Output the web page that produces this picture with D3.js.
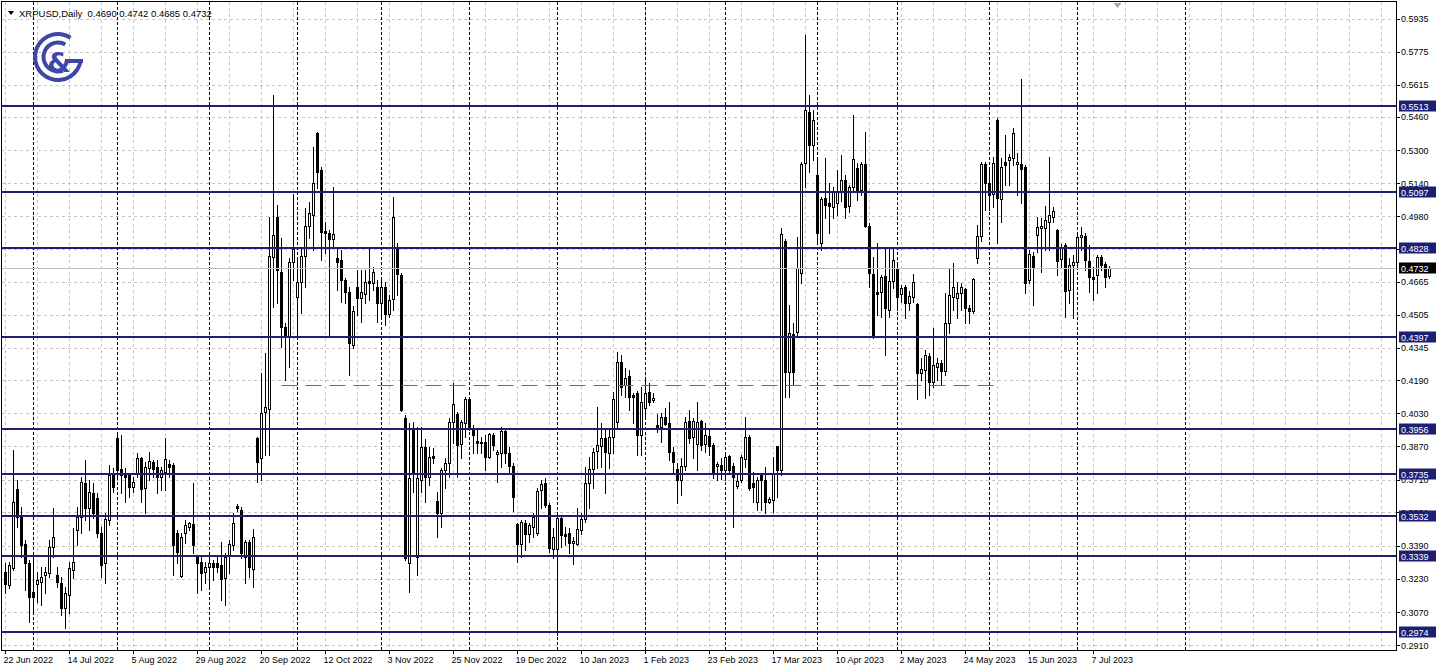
<!DOCTYPE html>
<html><head><meta charset="utf-8">
<script src="https://cdn.jsdelivr.net/npm/d3@7"></script>
<style>
html,body{margin:0;padding:0;background:#fff;overflow:hidden}
svg{display:block;font-family:"Liberation Sans",Arial,sans-serif;font-size:9px}
</style></head><body>
<svg id="c" width="1438" height="671"></svg>
<script>
const symbolName = "XRPUSD,Daily";
const lastOHLC = [0.4690, 0.4742, 0.4685, 0.4732];
// [open, high, low, close] per daily bar, 22 Jun 2022 .. 12 Jul 2023
const candles = [
[0.3264,0.3307,0.3163,0.3206],[0.3201,0.3312,0.3187,0.3298],[0.3284,0.3853,0.3274,0.3602],[0.3665,0.3708,0.3481,0.3530],
[0.3530,0.3578,0.3336,0.3394],[0.3399,0.3418,0.3177,0.3307],[0.3307,0.3322,0.3022,0.3143],[0.3167,0.3322,0.3066,0.3143],
[0.3206,0.3264,0.3119,0.3225],[0.3215,0.3288,0.3105,0.3240],[0.3249,0.3288,0.3163,0.3264],[0.3259,0.3418,0.3240,0.3384],
[0.3384,0.3573,0.3336,0.3433],[0.3249,0.3288,0.3192,0.3215],[0.3211,0.3240,0.3056,0.3090],[0.3090,0.3192,0.2994,0.3163],
[0.3153,0.3312,0.3066,0.3284],[0.3274,0.3477,0.3235,0.3312],[0.3467,0.3578,0.3394,0.3530],[0.3530,0.3723,0.3452,0.3698],
[0.3694,0.3805,0.3515,0.3573],[0.3573,0.3708,0.3467,0.3650],[0.3645,0.3694,0.3525,0.3549],[0.3621,0.3645,0.3433,0.3452],
[0.3452,0.3481,0.3240,0.3298],[0.3307,0.3549,0.3211,0.3520],[0.3515,0.3781,0.3491,0.3733],[0.3742,0.3766,0.3650,0.3675],
[0.3911,0.3935,0.3723,0.3756],[0.3761,0.3925,0.3645,0.3733],[0.3742,0.3766,0.3602,0.3723],[0.3733,0.3742,0.3626,0.3675],
[0.3675,0.3723,0.3650,0.3698],[0.3742,0.3839,0.3723,0.3814],[0.3814,0.3819,0.3602,0.3665],[0.3670,0.3795,0.3549,0.3771],
[0.3766,0.3843,0.3708,0.3800],[0.3795,0.3805,0.3723,0.3761],[0.3771,0.3805,0.3645,0.3723],[0.3723,0.3771,0.3660,0.3756],
[0.3747,0.3911,0.3660,0.3810],[0.3786,0.3805,0.3723,0.3771],[0.3781,0.3790,0.3249,0.3394],[0.3452,0.3467,0.3307,0.3360],
[0.3245,0.3452,0.3240,0.3433],[0.3452,0.3515,0.3404,0.3491],[0.3481,0.3505,0.3467,0.3501],[0.3496,0.3694,0.3355,0.3394],
[0.3336,0.3346,0.3163,0.3307],[0.3312,0.3336,0.3177,0.3259],[0.3264,0.3312,0.3211,0.3288],[0.3288,0.3331,0.3187,0.3307],
[0.3307,0.3322,0.3225,0.3288],[0.3307,0.3336,0.3264,0.3288],[0.3298,0.3408,0.3129,0.3230],[0.3235,0.3355,0.3105,0.3336],
[0.3341,0.3418,0.3259,0.3399],[0.3394,0.3549,0.3370,0.3501],[0.3583,0.3592,0.3558,0.3573],[0.3563,0.3578,0.3331,0.3355],
[0.3336,0.3418,0.3211,0.3408],[0.3408,0.3418,0.3240,0.3288],[0.3279,0.3472,0.3192,0.3433],[0.3911,0.3916,0.3698,0.3795],
[0.3814,0.4225,0.3708,0.4032],[0.4037,0.4321,0.3829,0.4061],[0.4051,0.4977,0.3829,0.4789],[0.4785,0.5566,0.4543,0.4891],
[0.4977,0.5036,0.4563,0.4722],[0.4712,0.4877,0.4351,0.4447],[0.4447,0.4466,0.4191,0.4399],[0.4399,0.4780,0.4254,0.4760],
[0.4760,0.5089,0.4674,0.4823],[0.4592,0.4785,0.4399,0.4664],[0.4664,0.4833,0.4514,0.4789],[0.4789,0.5021,0.4640,0.4934],
[0.4934,0.5050,0.4877,0.4997],[0.4987,0.5316,0.4818,0.5142],[0.5383,0.5388,0.5118,0.5195],[0.5204,0.5219,0.4770,0.4905],
[0.4910,0.4953,0.4804,0.4901],[0.4901,0.4915,0.4399,0.4872],[0.4872,0.5123,0.4833,0.4896],[0.4780,0.4828,0.4625,0.4760],
[0.4770,0.4818,0.4567,0.4674],[0.4674,0.4683,0.4563,0.4616],[0.4616,0.4640,0.4215,0.4370],[0.4360,0.4548,0.4346,0.4524],
[0.4640,0.4722,0.4505,0.4587],[0.4587,0.4722,0.4471,0.4616],[0.4606,0.4722,0.4563,0.4664],[0.4669,0.4828,0.4577,0.4659],
[0.4659,0.4736,0.4625,0.4712],[0.4640,0.4674,0.4471,0.4563],[0.4563,0.4674,0.4495,0.4640],[0.4640,0.4664,0.4457,0.4510],
[0.4510,0.4601,0.4495,0.4577],[0.4582,0.5074,0.4529,0.4977],[0.4833,0.4852,0.4601,0.4703],[0.4698,0.4707,0.4040,0.4046],
[0.4008,0.4022,0.3322,0.3331],[0.3307,0.3983,0.3167,0.3718],[0.3950,0.3988,0.3650,0.3747],[0.3336,0.3964,0.3249,0.3718],
[0.3708,0.3964,0.3650,0.3867],[0.3867,0.3906,0.3602,0.3723],[0.3723,0.3867,0.3684,0.3819],[0.3824,0.3862,0.3790,0.3814],
[0.3607,0.3650,0.3433,0.3549],[0.3549,0.3766,0.3481,0.3756],[0.3756,0.3814,0.3670,0.3790],[0.3790,0.4008,0.3723,0.3988],
[0.3988,0.4177,0.3887,0.4075],[0.4027,0.4037,0.3723,0.3877],[0.3882,0.3998,0.3814,0.3988],[0.3983,0.4109,0.3916,0.4099],
[0.4099,0.4109,0.3950,0.3959],[0.3959,0.3974,0.3839,0.3925],[0.3897,0.3950,0.3839,0.3887],[0.3892,0.3916,0.3839,0.3887],
[0.3892,0.3925,0.3756,0.3819],[0.3819,0.3935,0.3814,0.3930],[0.3925,0.3935,0.3853,0.3877],[0.3834,0.3853,0.3698,0.3843],
[0.3839,0.3964,0.3771,0.3945],[0.3945,0.3959,0.3790,0.3839],[0.3839,0.3867,0.3742,0.3776],[0.3776,0.3790,0.3558,0.3626],
[0.3496,0.3501,0.3312,0.3399],[0.3399,0.3515,0.3336,0.3505],[0.3501,0.3515,0.3370,0.3447],[0.3447,0.3501,0.3408,0.3491],
[0.3481,0.3549,0.3433,0.3530],[0.3452,0.3670,0.3443,0.3655],[0.3660,0.3708,0.3573,0.3689],[0.3694,0.3718,0.3578,0.3587],
[0.3587,0.3597,0.3360,0.3380],[0.3375,0.3477,0.3331,0.3433],[0.3375,0.3549,0.2960,0.3525],[0.3525,0.3535,0.3384,0.3443],
[0.3447,0.3481,0.3394,0.3438],[0.3452,0.3477,0.3355,0.3404],[0.3404,0.3433,0.3303,0.3413],[0.3399,0.3573,0.3394,0.3472],
[0.3467,0.3549,0.3447,0.3520],[0.3520,0.3771,0.3505,0.3694],[0.3694,0.3819,0.3573,0.3761],[0.3761,0.3862,0.3670,0.3843],
[0.3848,0.4061,0.3766,0.3877],[0.3872,0.3983,0.3771,0.3911],[0.3911,0.3959,0.3645,0.3843],[0.3839,0.3959,0.3766,0.3916],
[0.3916,0.4133,0.3839,0.4099],[0.3988,0.4326,0.3959,0.4278],[0.4278,0.4312,0.4119,0.4157],[0.4167,0.4249,0.4109,0.4201],
[0.4210,0.4239,0.4046,0.4109],[0.4119,0.4128,0.3983,0.4109],[0.4128,0.4138,0.3829,0.3925],[0.3925,0.4157,0.3829,0.4085],
[0.4056,0.4191,0.4013,0.4128],[0.4133,0.4177,0.4070,0.4085],[0.4094,0.4128,0.4085,0.4104],[0.3974,0.4027,0.3940,0.3964],
[0.3964,0.4032,0.3892,0.4013],[0.4013,0.4056,0.3974,0.3979],[0.3983,0.4085,0.3805,0.3843],[0.3843,0.3867,0.3742,0.3795],
[0.3761,0.3790,0.3597,0.3708],[0.3708,0.3814,0.3636,0.3776],[0.3776,0.4013,0.3756,0.3988],[0.3993,0.4046,0.3887,0.3911],
[0.3916,0.4008,0.3814,0.3993],[0.3882,0.4085,0.3756,0.3988],[0.3993,0.3998,0.3853,0.3877],[0.3882,0.3983,0.3843,0.3925],
[0.3921,0.3959,0.3829,0.3872],[0.3877,0.3887,0.3718,0.3742],[0.3776,0.3795,0.3708,0.3786],[0.3781,0.3814,0.3713,0.3756],
[0.3756,0.3839,0.3708,0.3819],[0.3824,0.3829,0.3742,0.3756],[0.3776,0.3790,0.3481,0.3723],[0.3679,0.3733,0.3670,0.3703],
[0.3708,0.3829,0.3698,0.3819],[0.3810,0.4013,0.3771,0.3916],[0.3916,0.3925,0.3660,0.3670],[0.3694,0.3747,0.3602,0.3675],
[0.3602,0.3723,0.3563,0.3708],[0.3733,0.3742,0.3563,0.3708],[0.3708,0.3771,0.3549,0.3602],[0.3602,0.3626,0.3597,0.3616],
[0.3612,0.3819,0.3554,0.3742],[0.3872,0.3872,0.3626,0.3756],[0.3756,0.4925,0.3733,0.4896],[0.4862,0.4872,0.4109,0.4230],
[0.4230,0.4553,0.4109,0.4418],[0.4413,0.4466,0.4167,0.4230],[0.4423,0.4881,0.4408,0.4732],[0.4707,0.5243,0.4659,0.5233],
[0.5238,0.5856,0.5123,0.5494],[0.5484,0.5566,0.5195,0.5325],[0.5325,0.5494,0.5253,0.5446],[0.5180,0.5253,0.4852,0.4901],
[0.4852,0.5074,0.4818,0.5065],[0.5069,0.5262,0.4973,0.5036],[0.5045,0.5142,0.4901,0.5031],[0.5026,0.5123,0.4973,0.5103],
[0.5045,0.5204,0.4987,0.5103],[0.5098,0.5277,0.5055,0.5156],[0.5156,0.5180,0.4973,0.5026],[0.5031,0.5132,0.5002,0.5123],
[0.5123,0.5470,0.5098,0.5258],[0.5214,0.5238,0.5060,0.5108],[0.5108,0.5243,0.5084,0.5233],[0.5233,0.5388,0.4929,0.4934],
[0.4934,0.4949,0.4640,0.4707],[0.4703,0.4785,0.4394,0.4408],[0.4616,0.4852,0.4505,0.4606],[0.4616,0.4698,0.4495,0.4688],
[0.4693,0.4828,0.4312,0.4539],[0.4529,0.4828,0.4495,0.4669],[0.4669,0.4828,0.4635,0.4770],[0.4727,0.4746,0.4529,0.4592],
[0.4606,0.4650,0.4567,0.4635],[0.4640,0.4650,0.4490,0.4563],[0.4563,0.4621,0.4529,0.4597],[0.4592,0.4703,0.4567,0.4664],
[0.4558,0.4563,0.4099,0.4225],[0.4225,0.4297,0.4191,0.4244],[0.4239,0.4336,0.4104,0.4312],[0.4307,0.4321,0.4119,0.4181],
[0.4181,0.4442,0.4157,0.4263],[0.4254,0.4297,0.4191,0.4273],[0.4273,0.4287,0.4167,0.4235],[0.4235,0.4611,0.4215,0.4466],
[0.4466,0.4732,0.4418,0.4601],[0.4592,0.4756,0.4529,0.4640],[0.4587,0.4664,0.4490,0.4611],[0.4611,0.4659,0.4529,0.4640],
[0.4630,0.4635,0.4466,0.4539],[0.4539,0.4553,0.4466,0.4524],[0.4524,0.4683,0.4514,0.4679],[0.4780,0.4939,0.4756,0.4886],
[0.4886,0.5243,0.4862,0.5233],[0.5233,0.5243,0.5011,0.5142],[0.5142,0.5204,0.5011,0.5084],[0.5089,0.5267,0.5026,0.5238],
[0.5446,0.5455,0.4852,0.5069],[0.5065,0.5262,0.4953,0.5219],[0.5243,0.5373,0.5132,0.5228],[0.5253,0.5282,0.5132,0.5267],
[0.5262,0.5407,0.5228,0.5383],[0.5233,0.5287,0.5084,0.5243],[0.5233,0.5644,0.5045,0.5209],[0.5219,0.5228,0.4611,0.4659],
[0.4674,0.4818,0.4659,0.4799],[0.4789,0.4809,0.4553,0.4732],[0.4891,0.4977,0.4809,0.4929],[0.4925,0.4973,0.4712,0.4934],
[0.4925,0.5031,0.4818,0.4963],[0.4953,0.5267,0.4818,0.4987],[0.4977,0.5026,0.4953,0.5006],[0.4915,0.4920,0.4698,0.4765],
[0.4775,0.4847,0.4732,0.4828],[0.4843,0.4852,0.4495,0.4621],[0.4625,0.4780,0.4563,0.4746],[0.4746,0.4794,0.4490,0.4760],
[0.4760,0.4901,0.4736,0.4881],[0.4881,0.4929,0.4818,0.4891],[0.4886,0.4901,0.4722,0.4770],[0.4765,0.4843,0.4616,0.4688],
[0.4688,0.4736,0.4577,0.4679],[0.4698,0.4794,0.4611,0.4785],[0.4785,0.4794,0.4722,0.4746],[0.4751,0.4760,0.4640,0.4688],
[0.4690,0.4742,0.4685,0.4732]
];
const priceTicks = [0.5935,0.5775,0.5615,0.5460,0.5300,0.5140,0.4980,0.4825,0.4665,0.4505,0.4345,0.4190,0.4030,0.3870,0.3710,0.3551,0.3390,0.3230,0.3070,0.2910];
const levels = [0.5513,0.5097,0.4828,0.4397,0.3956,0.3735,0.3532,0.3339,0.2974];
const bidPrice = 0.4732;
const dateLabels = ["22 Jun 2022","14 Jul 2022","5 Aug 2022","29 Aug 2022","20 Sep 2022","12 Oct 2022","3 Nov 2022","25 Nov 2022","19 Dec 2022","10 Jan 2023","1 Feb 2023","23 Feb 2023","17 Mar 2023","10 Apr 2023","2 May 2023","24 May 2023","15 Jun 2023","7 Jul 2023"];
const dateLabelBars = [0,16,32,48,64,80,96,112,128,144,160,176,192,208,224,240,256,272];
const monthStartBars = [7,28,51,73,94,116,138,160,180,203,223,246,268,295];
const gridEvery = 8;
const supportPrice = 0.4167, supportFromBar = 69, supportToBar = 247;

const W = 1438, H = 671;
const L = 2, R = 1396, T = 2, B = 650;
const NAVY = "#1c1f73";
const svg = d3.select("#c");

const x = d3.scaleLinear().domain([-0.875, 347.625]).range([L, R]);
const y = d3.scaleLinear().domain([0.2974, 0.5513]).range([632, 106]);
const py = v => Math.round(y(v)) + 0.5;

svg.append("rect").attr("x",0).attr("y",0).attr("width",W).attr("height",H).attr("fill","#fff");

const clip = svg.append("defs").append("clipPath").attr("id","plot");
clip.append("rect").attr("x",L).attr("y",T).attr("width",R-L).attr("height",B-T);
const plot = svg.append("g").attr("clip-path","url(#plot)");

// gray grid
const vBars = d3.range(0, 400, gridEvery).filter(b => x(b) < R);
plot.append("g").selectAll("line").data(vBars).join("line")
  .attr("x1", b => x(b)).attr("x2", b => x(b)).attr("y1", T).attr("y2", B)
  .attr("stroke", "#c6c6c6").attr("stroke-dasharray", "3,3");
plot.append("g").selectAll("line").data(priceTicks).join("line")
  .attr("x1", L).attr("x2", R).attr("y1", d => py(d)).attr("y2", d => py(d))
  .attr("stroke", "#c6c6c6").attr("stroke-dasharray", "3,3");
// month separators
plot.append("g").selectAll("line").data(monthStartBars).join("line")
  .attr("x1", b => x(b)).attr("x2", b => x(b)).attr("y1", T).attr("y2", B)
  .attr("stroke", "#000").attr("stroke-dasharray", "3,2");

// candles
const cg = plot.append("g");
cg.selectAll("line.w").data(candles).join("line").attr("class","w")
  .attr("x1", (d,i) => x(i)).attr("x2", (d,i) => x(i))
  .attr("y1", d => Math.round(y(d[1]))).attr("y2", d => Math.round(y(d[2])) + 1)
  .attr("stroke", "#000").attr("stroke-width", 1);
cg.selectAll("rect.b").data(candles).join("rect").attr("class","b")
  .attr("x", (d,i) => x(i) - 1)
  .attr("y", d => Math.round(y(Math.max(d[0], d[3]))) + 0.5)
  .attr("width", 2)
  .attr("height", d => Math.max(0, Math.round(y(Math.min(d[0], d[3]))) - Math.round(y(Math.max(d[0], d[3])))))
  .attr("fill", d => d[3] >= d[0] ? "#fff" : "#000")
  .attr("stroke", "#000").attr("stroke-width", 1);

// bid line
plot.append("line").attr("x1", L).attr("x2", R).attr("y1", py(bidPrice)).attr("y2", py(bidPrice))
  .attr("stroke", "#c0c0c0");
// support dashed line
plot.append("line").attr("x1", x(supportFromBar)).attr("x2", x(supportToBar))
  .attr("y1", py(supportPrice)).attr("y2", py(supportPrice))
  .attr("stroke", "#4f8a2c").attr("stroke-dasharray", "16,8");
// navy levels
plot.append("g").selectAll("line").data(levels).join("line")
  .attr("x1", L).attr("x2", R).attr("y1", d => Math.round(y(d))).attr("y2", d => Math.round(y(d)))
  .attr("stroke", NAVY).attr("stroke-width", 2);

// frame
svg.append("rect").attr("x", L - 0.5).attr("y", T - 0.5).attr("width", R - L + 1).attr("height", B - T + 1)
  .attr("fill", "none").attr("stroke", "#000");

// price axis
const pa = svg.append("g");
pa.selectAll("line").data(priceTicks).join("line")
  .attr("x1", R).attr("x2", R + 4).attr("y1", d => py(d)).attr("y2", d => py(d)).attr("stroke", "#000");
pa.selectAll("text").data(priceTicks).join("text")
  .attr("x", R + 5).attr("y", d => y(d) + 3.5).attr("fill", "#000").text(d => d.toFixed(4));
const lv = svg.append("g").selectAll("g").data(levels).join("g");
lv.append("rect").attr("x", R + 3).attr("y", d => Math.round(y(d)) - 5.5).attr("width", 37).attr("height", 11).attr("fill", NAVY);
lv.append("text").attr("x", R + 5).attr("y", d => Math.round(y(d)) + 3.5).attr("fill", "#fff").text(d => d.toFixed(4));
svg.append("rect").attr("x", R + 3).attr("y", Math.round(y(bidPrice)) - 5.5).attr("width", 37).attr("height", 11).attr("fill", "#000");
svg.append("text").attr("x", R + 5).attr("y", Math.round(y(bidPrice)) + 3.5).attr("fill", "#fff").text(bidPrice.toFixed(4));

// time axis
const ta = svg.append("g");
ta.selectAll("line").data(dateLabelBars).join("line")
  .attr("x1", b => x(b)).attr("x2", b => x(b)).attr("y1", B).attr("y2", B + 4).attr("stroke", "#000");
ta.selectAll("text").data(dateLabels).join("text")
  .attr("x", (d,i) => x(dateLabelBars[i]) - 2).attr("y", 663).attr("fill", "#000").text(d => d);

// title
svg.append("path").attr("d", "M8,11 L14,11 L11,15 Z").attr("fill", "#000");
svg.append("text").attr("x", 19).attr("y", 17).attr("fill", "#000").attr("font-size", 9.5)
  .attr("xml:space", "preserve")
  .text(symbolName + "  " + lastOHLC.map(v => v.toFixed(4)).join(" "));

// shift marker
const sx = x(candles.length + 1);
svg.append("path").attr("d", `M${sx-4},${T+1} L${sx+4},${T+1} L${sx},${T+6} Z`).attr("fill", "#a8a8a8");

// logo
const logo = svg.append("g").attr("transform", "translate(58,57)").attr("fill", "#3e47a7");
logo.append("path").attr("d", d3.arc().innerRadius(21).outerRadius(25).startAngle(-260 * Math.PI / 180).endAngle(33 * Math.PI / 180)());
logo.append("rect").attr("x", 7).attr("y", 2).attr("width", 18).attr("height", 4);
logo.append("path").attr("d", d3.arc().innerRadius(12.5).outerRadius(16.5).startAngle(-200 * Math.PI / 180).endAngle(30 * Math.PI / 180)());
logo.append("text").attr("x", 1).attr("y", 15).attr("text-anchor", "middle")
  .attr("font-family", "DejaVu Sans, sans-serif").attr("font-size", 27).attr("font-weight", "bold").text("&");
</script>
</body></html>
